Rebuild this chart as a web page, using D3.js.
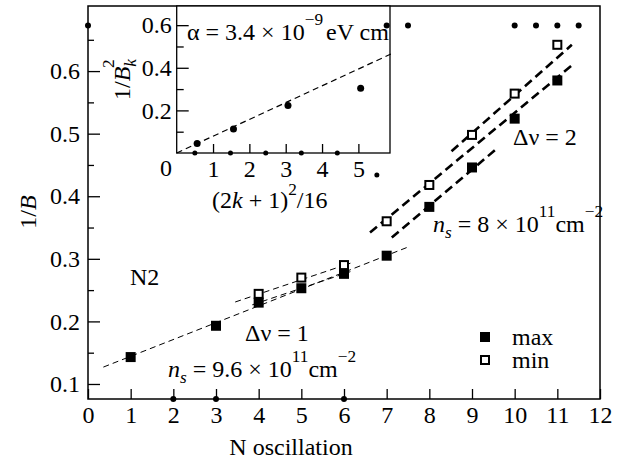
<!DOCTYPE html>
<html>
<head>
<meta charset="utf-8">
<script src="https://cdn.jsdelivr.net/npm/d3@7"></script>
<style>
  html, body { margin: 0; padding: 0; background: #fff; }
  svg, svg text { font-family: "Liberation Serif", "DejaVu Serif", "Times New Roman", serif; }
</style>
</head>
<body>
<div id="chart"></div>
<script>
// main panel: 1/B at the max / min of the oscillations
const maxN = [1, 3, 4, 5, 6, 7, 8, 9, 10, 11]
const maxVals = [0.143, 0.193, 0.230, 0.253, 0.276, 0.305, 0.383, 0.446, 0.524, 0.585]
const minN = [4, 5, 6, 7, 8, 9, 10, 11]
const minVals = [0.244, 0.270, 0.290, 0.360, 0.418, 0.498, 0.564, 0.642]

// fitted dashed lines, [[x0, y0], [x1, y1]]
const thinFits = [
  [[0.36, 0.127], [7.47, 0.318]],
  [[3.45, 0.231], [6.15, 0.293]],
  [[3.85, 0.2265], [6.15, 0.2795]]
]
const thickFits = [
  [[8.52, 0.472], [11.34, 0.642]],
  [[6.61, 0.342], [11.41, 0.613]],
  [[7.12, 0.334], [9.58, 0.476]]
]

// small dots on the page
const topDotsX = [0, 7, 7.5, 10, 10.5, 11, 11.5]
const topDotsY = 0.673
const axisDotsX = [2, 3, 6]
const strayDot = [6.77, 0.434]

const xTicks = [0, 1, 2, 3, 4, 5, 6, 7, 8, 9, 10, 11, 12]
const yTicks = [0.1, 0.2, 0.3, 0.4, 0.5, 0.6]
const yMinor = [0.15, 0.25, 0.35, 0.45, 0.55, 0.65]

// inset: 1/B_k^2 vs (2k+1)^2/16
const insetX = [0.5625, 1.5625, 3.0625, 5.0625]
const insetY = [0.045, 0.113, 0.223, 0.304]
const insetFit = [[0, 0], [5.95, 0.469]]
const insetAxisDots = [0.5, 1.48, 2.45, 3.43, 4.42]
const insetXTicks = [1, 2, 3, 4, 5]
const insetYTicks = [0.2, 0.4, 0.6]
const insetYMinor = [0.1, 0.3, 0.5]

const W = 617
const H = 464
const FS = 24
const FONT = '"Liberation Serif", "DejaVu Serif", serif'

const svg = d3.select('#chart').append('svg')
  .attr('width', W)
  .attr('height', H)
  .attr('font-family', FONT)

const x = d3.scaleLinear().domain([0, 12]).range([88, 600])
const y = d3.scaleLinear().domain([0.076, 0.704]).range([399, 6])

// text with italic / sub / sup pieces
const richText = function (g, parts) {
  const t = g.append('text').attr('font-size', FS).attr('font-family', FONT)
  let shift = 0
  parts.forEach(function (p) {
    const s = t.append('tspan').text(p.t)
    let target = 0
    if (p.sup) target = -p.sup
    if (p.sub) target = p.sub
    if (p.sup || p.sub) s.attr('font-size', FS * 0.72)
    if (p.italic) s.attr('font-style', 'italic')
    if (target !== shift) s.attr('dy', target - shift)
    if (p.dx) s.attr('dx', p.dx)
    shift = target
  })
  return t
}

const label = function (px, py, txt) {
  return svg.append('text').attr('x', px).attr('y', py)
    .attr('font-size', FS).attr('font-family', FONT).text(txt)
}

// ---------- main axes ----------
const yAxis = d3.axisLeft(y).tickValues(yTicks).tickSizeInner(-12).tickSizeOuter(0)
  .tickPadding(8).tickFormat(d3.format('.1f'))
svg.append('g').attr('transform', 'translate(88,0)').call(yAxis)
  .call(g => g.select('.domain').remove())
svg.append('g').attr('transform', 'translate(88,0)')
  .call(d3.axisLeft(y).tickValues(yMinor).tickSizeInner(-6).tickSizeOuter(0).tickFormat(''))
  .call(g => g.select('.domain').remove())

const xAxis = d3.axisBottom(x).tickValues(xTicks).tickSizeInner(-10).tickSizeOuter(0)
  .tickPadding(7).tickFormat(d3.format('d'))
svg.append('g').attr('transform', 'translate(0,399)').call(xAxis)
  .call(g => g.select('.domain').remove())

svg.selectAll('g').attr('font-family', FONT)
svg.selectAll('.tick text').attr('font-size', FS).attr('font-family', FONT)
svg.selectAll('.tick line').attr('stroke-width', 1.3)

svg.append('rect')
  .attr('x', 88).attr('y', 6)
  .attr('width', 512).attr('height', 393)
  .attr('fill', 'none').attr('stroke', '#000').attr('stroke-width', 1.5)

// fits
const line = d3.line().x(d => x(d[0])).y(d => y(d[1]))
svg.selectAll('.thin-fit').data(thinFits).enter().append('path')
  .attr('d', line).attr('fill', 'none').attr('stroke', '#000')
  .attr('stroke-width', 1).attr('stroke-dasharray', '6,4')
svg.selectAll('.thick-fit').data(thickFits).enter().append('path')
  .attr('d', line).attr('fill', 'none').attr('stroke', '#000')
  .attr('stroke-width', 2.6).attr('stroke-dasharray', '9,5')

// markers
const sq = 10
svg.selectAll('.maxp').data(maxN).enter().append('rect')
  .attr('x', (d) => x(d) - sq / 2)
  .attr('y', (d, i) => y(maxVals[i]) - sq / 2)
  .attr('width', sq).attr('height', sq).attr('fill', '#000')
svg.selectAll('.minp').data(minN).enter().append('rect')
  .attr('x', (d) => x(d) - 4)
  .attr('y', (d, i) => y(minVals[i]) - 4)
  .attr('width', 8).attr('height', 8)
  .attr('fill', '#fff').attr('stroke', '#000').attr('stroke-width', 2)

const dots = svg.append('g')
topDotsX.forEach(function (d) {
  dots.append('circle').attr('cx', x(d)).attr('cy', y(topDotsY)).attr('r', 3)
})
axisDotsX.forEach(function (d) {
  dots.append('circle').attr('cx', x(d)).attr('cy', y(0.076)).attr('r', 3)
})
dots.append('circle').attr('cx', x(strayDot[0])).attr('cy', y(strayDot[1])).attr('r', 2.5)

// legend
svg.append('rect').attr('x', 480).attr('y', 332).attr('width', sq).attr('height', sq).attr('fill', '#000')
svg.append('rect').attr('x', 481).attr('y', 356).attr('width', 8).attr('height', 8)
  .attr('fill', '#fff').attr('stroke', '#000').attr('stroke-width', 2)
label(512, 345, 'max')
label(512, 368, 'min')

// annotations
label(130, 285, 'N2')
label(245, 341, 'Δν = 1')
label(513, 145, 'Δν = 2')
richText(svg.append('g').attr('transform', 'translate(168,377)'), [
  { t: 'n', italic: true }, { t: 's', italic: true, sub: 6 },
  { t: ' = 9.6 × 10' }, { t: '11', sup: 15 }, { t: 'cm' }, { t: '−2', sup: 15 }
])
richText(svg.append('g').attr('transform', 'translate(433,232)'), [
  { t: 'n', italic: true }, { t: 's', italic: true, sub: 6 },
  { t: ' = 8 × 10' }, { t: '11', sup: 15 }, { t: 'cm' }, { t: '−2', sup: 15 }
])

// axis titles
label(291, 455, 'N oscillation').attr('text-anchor', 'middle')
richText(svg.append('g').attr('transform', 'translate(36,212) rotate(-90)'), [
  { t: '1/' }, { t: 'B', italic: true }
]).attr('text-anchor', 'middle')

// ---------- inset ----------
const xi = d3.scaleLinear().domain([0, 5.87]).range([176.7, 390])
const yi = d3.scaleLinear().domain([0, 0.69]).range([153, 6])

const inset = svg.append('g')
inset.append('rect').attr('x', 176.7).attr('y', 6).attr('width', 213.3).attr('height', 147)
  .attr('fill', '#fff')

inset.append('g').attr('transform', 'translate(176.7,0)')
  .call(d3.axisLeft(yi).tickValues(insetYTicks).tickSizeInner(-12).tickSizeOuter(0)
    .tickPadding(5).tickFormat(d3.format('.1f')))
  .call(g => g.select('.domain').remove())
inset.append('g').attr('transform', 'translate(176.7,0)')
  .call(d3.axisLeft(yi).tickValues(insetYMinor).tickSizeInner(-7).tickSizeOuter(0).tickFormat(''))
  .call(g => g.select('.domain').remove())
inset.append('g').attr('transform', 'translate(0,153)')
  .call(d3.axisBottom(xi).tickValues(insetXTicks).tickSizeInner(-9).tickSizeOuter(0)
    .tickPadding(7).tickFormat(d3.format('d')))
  .call(g => g.select('.domain').remove())
inset.selectAll('g').attr('font-family', FONT)
inset.selectAll('.tick text').attr('font-size', FS).attr('font-family', FONT)
inset.selectAll('.tick line').attr('stroke-width', 1.3)
label(166, 176, '0').attr('text-anchor', 'middle')

inset.append('rect').attr('x', 176.7).attr('y', 6).attr('width', 213.3).attr('height', 147)
  .attr('fill', 'none').attr('stroke', '#000').attr('stroke-width', 1.3)

inset.append('path').datum(insetFit)
  .attr('d', d3.line().x(d => xi(d[0])).y(d => yi(d[1])))
  .attr('fill', 'none').attr('stroke', '#000').attr('stroke-width', 1.2)
  .attr('stroke-dasharray', '6,4')

inset.selectAll('.ip').data(insetX).enter().append('circle')
  .attr('cx', d => xi(d)).attr('cy', (d, i) => yi(insetY[i])).attr('r', 3.5)
insetAxisDots.forEach(function (d) {
  inset.append('circle').attr('cx', xi(d)).attr('cy', yi(0)).attr('r', 2.5)
})
// the top dot at N = 7 sits on the inset
inset.append('circle').attr('cx', x(7)).attr('cy', y(topDotsY)).attr('r', 3)

richText(inset.append('g').attr('transform', 'translate(187,40)'), [
  { t: 'α = 3.4 × 10' }, { t: '−9', sup: 15 }, { t: 'eV cm', dx: 3 }
])
richText(inset.append('g').attr('transform', 'translate(212,208)'), [
  { t: '(2' }, { t: 'k', italic: true }, { t: ' + 1)' }, { t: '2', sup: 13 }, { t: '/16' }
])
richText(inset.append('g').attr('transform', 'translate(130,100) rotate(-90)'), [
  { t: '1/' }, { t: 'B', italic: true }, { t: 'k', italic: true, sub: 6 },
  { t: '2', sup: 16, dx: -9 }
])
</script>
</body>
</html>
